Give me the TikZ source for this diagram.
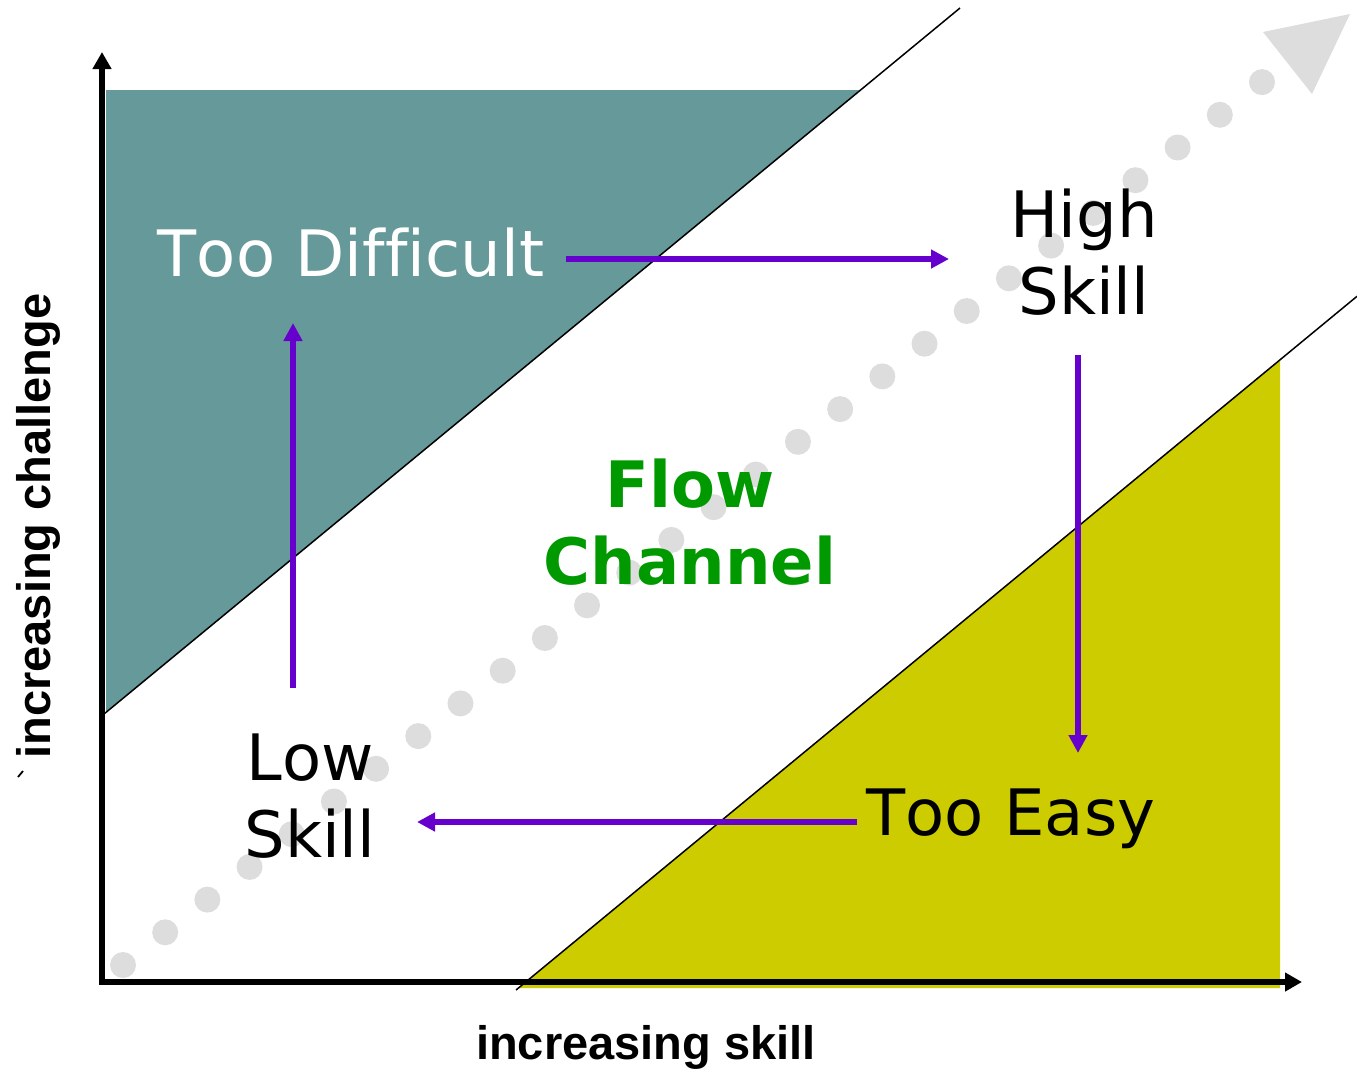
\documentclass[tikz,border=0pt]{standalone}
\usepackage{fontspec}
\setmainfont{DejaVu Sans}[Kerning=Off,Ligatures=NoCommon]
\newfontfamily\arialfont{Liberation Sans}
\usetikzlibrary{arrows.meta}
\definecolor{tealc}{HTML}{669999}
\definecolor{yellc}{HTML}{CCCC00}
\definecolor{greenc}{HTML}{009900}
\definecolor{purpc}{HTML}{6600CC}
\definecolor{dotc}{HTML}{DDDDDD}
\tikzset{
  bigtext/.style={font=\fontsize{64}{77}\selectfont, inner sep=0pt, align=center},
  axislabel/.style={font=\arialfont\bfseries\fontsize{47}{56}\selectfont, inner sep=0pt},
  axisline/.style={line width=5.5pt, -{Triangle[length=17pt,width=18pt]}},
  cycarrow/.style={draw=purpc, line width=5.5pt, -{Triangle[length=18pt,width=18pt]}},
  boundary/.style={line width=1.5pt},
}
\begin{document}
\begin{tikzpicture}[x=1pt,y=-1pt]
\useasboundingbox (0,0) rectangle (1357,1069);
% regions
\fill[tealc] (106,90) -- (860.6,90) -- (106,712.3) -- cycle;
\fill[yellc] (518.4,988) -- (1280,360) -- (1280,988) -- cycle;
\draw[boundary] (104,714) -- (960,8);
\draw[boundary] (516,990) -- (1357,296.3);
% dotted gray arrow
\foreach \k in {0,...,27}
  \fill[dotc] ({123+42.185*\k},{965-32.7*\k}) circle (13pt);
\fill[dotc] (1263,32) -- (1350,14) -- (1312,94) -- cycle;
% labels
\node[bigtext, text=white, anchor=base] (diff) at (351,276) {Too Difficult};
\node[bigtext] (high) at (1084,252) {High\\Skill};
\node[bigtext, anchor=base] (easy) at (1011,835) {Too Easy};
\node[bigtext] (low) at (310,796) {Low\\Skill};
\node[bigtext, text=greenc, font=\bfseries\fontsize{64}{77}\selectfont] (flow) at (690,522) {Flow\\Channel};
% cycle arrows
\coordinate (a1s) at (566,259); \coordinate (a1e) at (949,259);
\coordinate (a2s) at (1078,355); \coordinate (a2e) at (1078,753);
\coordinate (a3s) at (857,822); \coordinate (a3e) at (417,822);
\coordinate (a4s) at (293,688); \coordinate (a4e) at (293,323);
\draw[cycarrow] (a1s) -- (a1e);
\draw[cycarrow] (a2s) -- (a2e);
\draw[cycarrow] (a3s) -- (a3e);
\draw[cycarrow] (a4s) -- (a4e);
% axes
\coordinate (o) at (102,982);
\coordinate (ox) at (99.25,982);
\coordinate (ytip) at (102,52);
\coordinate (xtip) at (1302,982);
\draw[axisline] (o) -- (ytip);
\draw[axisline] (ox) -- (xtip);
\node[axislabel, anchor=base] (xlab) at (646,1059) {increasing skill};
\node[axislabel, anchor=base, rotate=90] (ylab) at (50,526) {increasing challenge};
\draw[line width=1.8pt] (18,777) -- (23,771);
\end{tikzpicture}
\end{document}
